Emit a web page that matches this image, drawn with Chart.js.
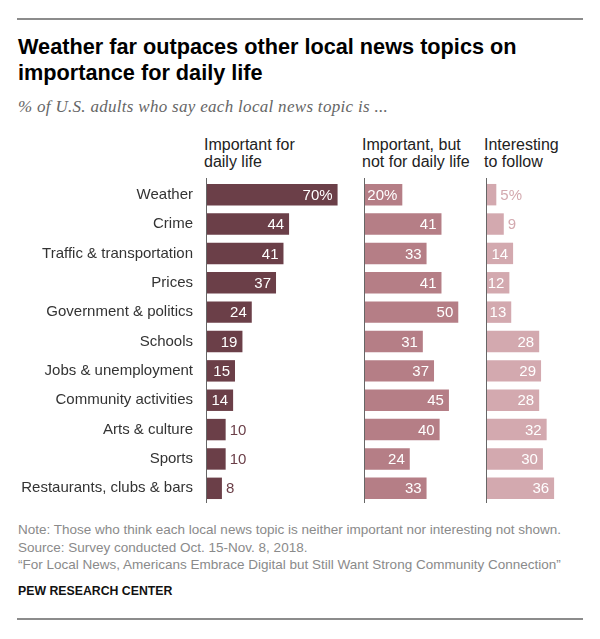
<!DOCTYPE html>
<html>
<head>
<meta charset="utf-8">
<script src="https://cdn.jsdelivr.net/npm/chart.js@4.4.1/dist/chart.umd.min.js"></script>
<style>
  html, body { margin: 0; padding: 0; background: #fff; }
  #wrap { position: relative; width: 600px; height: 639px; overflow: hidden; font-family: "Liberation Sans", Arial, sans-serif; }
  .rule { position: absolute; left: 17px; width: 566px; height: 0; border-top: 2px solid #8c8c8c; }
  #title { position: absolute; left: 18px; top: 34px; width: 580px; font-size: 21.7px; line-height: 26px; font-weight: bold; color: #000; }
  #subtitle { position: absolute; left: 18px; top: 97px; font-family: "Liberation Serif", "DejaVu Serif", serif; font-style: italic; font-size: 17px; line-height: 19px; letter-spacing: 0.3px; color: #666; }
  .hdr { position: absolute; top: 136px; font-size: 16px; line-height: 17px; color: #222; }
  #foot { position: absolute; left: 18px; top: 521px; font-size: 13.5px; line-height: 17.5px; color: #8a8a8a; }
  #pew { position: absolute; left: 18px; top: 583px; font-size: 12.3px; line-height: 16px; font-weight: bold; color: #111; }
  #chartBox { position: absolute; left: 0; top: 170px; width: 600px; height: 345px; }
</style>
</head>
<body>
<div id="wrap">
  <div class="rule" style="top:18px"></div>
  <div id="title">Weather far outpaces other local news topics on<br>importance for daily life</div>
  <div id="subtitle">% of U.S. adults who say each local news topic is ...</div>
  <div class="hdr" id="h1" style="left:204px">Important for<br>daily life</div>
  <div class="hdr" id="h2" style="left:362px">Important, but<br>not for daily life</div>
  <div class="hdr" id="h3" style="left:484px">Interesting<br>to follow</div>
  <div id="chartBox"><canvas id="c"></canvas></div>
  <div id="foot">Note: Those who think each local news topic is neither important nor interesting not shown.<br>Source: Survey conducted Oct. 15-Nov. 8, 2018.<br>“For Local News, Americans Embrace Digital but Still Want Strong Community Connection”</div>
  <div id="pew">PEW RESEARCH CENTER</div>
  <div class="rule" style="top:618px"></div>
</div>
<script>
const categories = ["Weather", "Crime", "Traffic & transportation", "Prices", "Government & politics", "Schools", "Jobs & unemployment", "Community activities", "Arts & culture", "Sports", "Restaurants, clubs & bars"];
const seriesNames = ["Important for daily life", "Important, but not for daily life", "Interesting to follow"];
const importantDaily = [70, 44, 41, 37, 24, 19, 15, 14, 10, 10, 8];
const importantNotDaily = [20, 41, 33, 41, 50, 31, 37, 45, 40, 24, 33];
const interesting = [5, 9, 14, 12, 13, 28, 29, 28, 32, 30, 36];

const barColors = ["#6b3f48", "#b57e86", "#d3a9af"];
const outsideColors = ["#6b3f48", "#b57e86", "#d3a9af"];
const axisMax = [84.7, 65.4, 51.5];
const axisWeight = [158, 122, 96];
const insideMin = 12;

const valueLabels = {
  id: 'valueLabels',
  afterDatasetsDraw(chart) {
    const ctx = chart.ctx;
    ctx.save();
    ctx.font = '15px "Liberation Sans", Arial, sans-serif';
    ctx.textBaseline = 'middle';
    chart.data.datasets.forEach((ds, di) => {
      const meta = chart.getDatasetMeta(di);
      meta.data.forEach((bar, i) => {
        const v = ds.data[i];
        const txt = v + (i === 0 ? '%' : '');
        if (v >= insideMin) {
          ctx.fillStyle = '#ffffff';
          ctx.textAlign = 'right';
          ctx.fillText(txt, bar.x - 5, bar.y + 1);
        } else {
          ctx.fillStyle = outsideColors[di];
          ctx.textAlign = 'left';
          ctx.fillText(txt, bar.x + 4, bar.y + 1);
        }
      });
    });
    ctx.restore();
  }
};

const axisLines = {
  id: 'axisLines',
  afterDatasetsDraw(chart) {
    const ctx = chart.ctx;
    const area = chart.chartArea;
    ctx.save();
    ctx.strokeStyle = '#666';
    ctx.lineWidth = 1;
    ['x1', 'x2', 'x3'].forEach(id => {
      const s = chart.scales[id];
      const px = Math.round(s.getPixelForValue(0)) - 0.5;
      ctx.beginPath();
      ctx.moveTo(px, area.top - 2);
      ctx.lineTo(px, area.bottom);
      ctx.stroke();
    });
    ctx.restore();
  }
};

const seriesData = [importantDaily, importantNotDaily, interesting];
const xScale = (k) => ({
  type: 'linear',
  axis: 'x',
  position: 'bottom',
  stack: 'cols',
  stackWeight: axisWeight[k],
  min: 0,
  max: axisMax[k],
  grid: { display: false, drawTicks: false },
  border: { display: false },
  ticks: { display: false }
});

new Chart(document.getElementById('c'), {
  type: 'bar',
  data: {
    labels: categories,
    datasets: seriesData.map((d, k) => ({
      label: seriesNames[k],
      data: d,
      xAxisID: 'x' + (k + 1),
      yAxisID: 'y',
      backgroundColor: barColors[k],
      borderWidth: 0,
      grouped: false,
      barPercentage: 0.73,
      categoryPercentage: 1
    }))
  },
  options: {
    indexAxis: 'y',
    responsive: true,
    maintainAspectRatio: false,
    animation: false,
    layout: { padding: { top: 10, bottom: 12, left: 0, right: 17 } },
    plugins: { legend: { display: false }, tooltip: { enabled: false } },
    scales: {
      x1: xScale(0),
      x2: xScale(1),
      x3: xScale(2),
      y: {
        type: 'category',
        position: 'left',
        grid: { display: false, drawTicks: false },
        border: { display: false },
        ticks: { color: '#333', font: { family: '"Liberation Sans", Arial, sans-serif', size: 15 }, padding: 14, autoSkip: false },
        afterFit(scale) { scale.width = 207; scale.paddingTop = 0; scale.paddingBottom = 0; }
      }
    }
  },
  plugins: [axisLines, valueLabels]
});
</script>
</body>
</html>
